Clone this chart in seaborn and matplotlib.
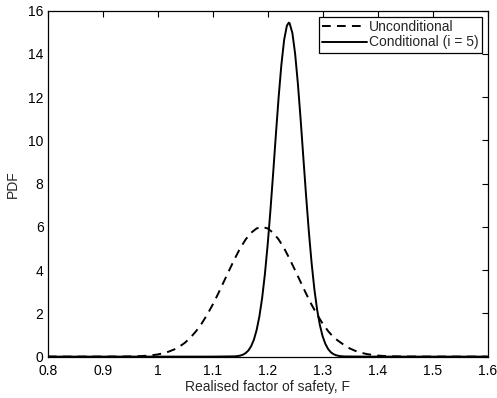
import matplotlib
matplotlib.use("Agg")
import matplotlib.pyplot as plt
import matplotlib.ticker as mticker
import seaborn as sns
import pandas as pd

# Unconditional PDF (dashed)
x_uncond = [0.80, 0.86, 0.92, 0.93, 0.94, 0.95, 0.96, 0.97, 0.98, 0.99,
            1.00, 1.01, 1.02, 1.03, 1.04, 1.05, 1.06, 1.07, 1.08, 1.09,
            1.10, 1.11, 1.12, 1.13, 1.14, 1.15, 1.16, 1.17, 1.18, 1.19,
            1.20, 1.21, 1.22, 1.23, 1.24, 1.25, 1.26, 1.27, 1.28, 1.29,
            1.30, 1.31, 1.32, 1.33, 1.34, 1.35, 1.36, 1.37, 1.38, 1.39,
            1.40, 1.41, 1.42, 1.43, 1.44, 1.45, 1.46, 1.52, 1.60]
y_uncond = [0.0, 0.0, 0.002, 0.003, 0.005, 0.009, 0.015, 0.025, 0.041, 0.065,
            0.10, 0.15, 0.23, 0.33, 0.47, 0.65, 0.89, 1.18, 1.53, 1.94,
            2.40, 2.91, 3.45, 3.99, 4.52, 5.01, 5.42, 5.73, 5.93, 6.00,
            5.93, 5.73, 5.42, 5.01, 4.52, 3.99, 3.45, 2.91, 2.40, 1.94,
            1.53, 1.18, 0.89, 0.70, 0.52, 0.37, 0.26, 0.18, 0.12, 0.08,
            0.05, 0.03, 0.02, 0.012, 0.007, 0.004, 0.002, 0.0, 0.0]

# Conditional PDF (i = 5), solid
x_cond = [0.80, 1.10, 1.14, 1.145, 1.15, 1.155, 1.16, 1.165, 1.17, 1.175,
          1.18, 1.185, 1.19, 1.195, 1.20, 1.205, 1.21, 1.215, 1.22, 1.225,
          1.23, 1.235, 1.2385, 1.24, 1.245, 1.25, 1.255, 1.26, 1.265, 1.27,
          1.275, 1.28, 1.285, 1.29, 1.295, 1.30, 1.305, 1.31, 1.315, 1.32,
          1.325, 1.33, 1.335, 1.34, 1.38, 1.60]
y_cond = [0.0, 0.0, 0.012, 0.024, 0.047, 0.089, 0.162, 0.284, 0.481, 0.783,
          1.23, 1.86, 2.71, 3.81, 5.16, 6.74, 8.47, 10.27, 12.00, 13.50,
          14.65, 15.31, 15.45, 15.42, 14.97, 14.01, 12.63, 10.98, 9.19, 7.42,
          5.77, 4.32, 3.12, 2.17, 1.46, 0.94, 0.59, 0.35, 0.20, 0.11,
          0.06, 0.03, 0.016, 0.008, 0.0, 0.0]

labels = ["Unconditional", "Conditional (i = 5)"]
x_ticks = [0.8, 0.9, 1.0, 1.1, 1.2, 1.3, 1.4, 1.5, 1.6]
y_ticks = [0, 2, 4, 6, 8, 10, 12, 14, 16]

sns.set_theme(style="white")
plt.rcParams["font.family"] = ["Liberation Sans", "DejaVu Sans"]
plt.rcParams["axes.edgecolor"] = "black"
plt.rcParams["axes.linewidth"] = 0.9

df_u = pd.DataFrame({"x": x_uncond, "y": y_uncond})
df_c = pd.DataFrame({"x": x_cond, "y": y_cond})

fig = plt.figure(figsize=(4.97, 3.98), dpi=100)
ax = fig.add_axes([0.096, 0.104, 0.885, 0.869])

sns.lineplot(data=df_u, x="x", y="y", ax=ax, color="black", lw=1.4,
             linestyle=(0, (4.5, 3.2)), sort=False, estimator=None,
             label=labels[0])
sns.lineplot(data=df_c, x="x", y="y", ax=ax, color="black", lw=1.4,
             sort=False, estimator=None, label=labels[1])

ax.set_xlim(0.8, 1.6)
ax.set_ylim(0, 16)
ax.set_xticks(x_ticks)
ax.set_yticks(y_ticks)
ax.xaxis.set_major_formatter(mticker.FormatStrFormatter("%g"))
ax.yaxis.set_major_formatter(mticker.FormatStrFormatter("%g"))
ax.tick_params(direction="in", length=4, width=0.8, top=True, right=True,
               labelsize=10, colors="black")
ax.tick_params(axis="x", pad=5)
ax.tick_params(axis="y", pad=3)
ax.set_xlabel("Realised factor of safety, F", fontsize=10, labelpad=2)
ax.set_ylabel("PDF", fontsize=10, labelpad=6)
for s in ax.spines.values():
    s.set_visible(True)
    s.set_color("black")

leg = ax.legend(loc="upper right", fontsize=10, frameon=True, fancybox=False,
                edgecolor="black", framealpha=1, handlelength=3.2,
                handletextpad=0.15, borderpad=0.25, labelspacing=0.1,
                borderaxespad=0.42)
leg.get_frame().set_linewidth(0.9)

fig.savefig("out.png", dpi=100)
